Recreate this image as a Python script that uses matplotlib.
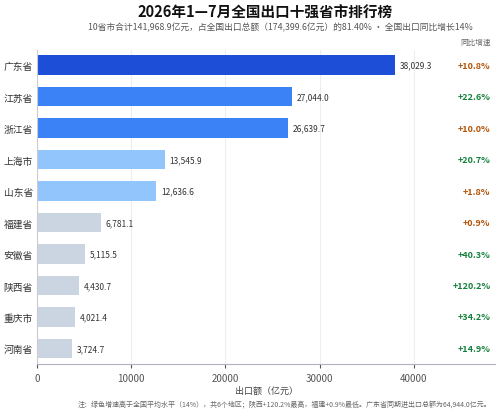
import matplotlib
matplotlib.use("Agg")
import matplotlib.pyplot as plt

plt.rcParams['font.family'] = ['Noto Sans CJK SC', 'DejaVu Sans']

provinces = ["广东省", "江苏省", "浙江省", "上海市", "山东省", "福建省", "安徽省", "陕西省", "重庆市", "河南省"]
values = [38029.3, 27044.0, 26639.7, 13545.9, 12636.6, 6781.1, 5115.5, 4430.7, 4021.4, 3724.7]
growth = [10.8, 22.6, 10.0, 20.7, 1.8, 0.9, 40.3, 120.2, 34.2, 14.9]
bar_colors = ["#1d4ed8", "#3b82f6", "#3b82f6", "#93c5fd", "#93c5fd",
              "#cbd5e1", "#cbd5e1", "#cbd5e1", "#cbd5e1", "#cbd5e1"]

fig = plt.figure(figsize=(5.0, 4.14), dpi=100)
ax = fig.add_axes([0.074, 0.118, 0.916, 0.76])
y = list(range(len(provinces)))
ax.barh(y, values, color=bar_colors, height=0.62, zorder=2)
ax.set_ylim(len(provinces) - 0.5, -0.5)
ax.set_xlim(0, 48600)
ax.set_yticks(y)
ax.set_yticklabels(provinces, fontsize=7, color="#333333")
ax.set_xticks([0, 10000, 20000, 30000, 40000])
ax.tick_params(axis='x', labelsize=7, colors="#555555", length=3)
ax.tick_params(axis='y', length=0, pad=3)
ax.grid(axis='x', color="#eeeeee", linewidth=0.8, zorder=0)
for s in ["top", "right"]:
    ax.spines[s].set_visible(False)
ax.spines["left"].set_color("#cccccc")
ax.spines["bottom"].set_color("#b0b4c0")
for i, (v, g) in enumerate(zip(values, growth)):
    ax.text(v + 500, i, f"{v:,.1f}", va="center", ha="left", fontsize=6, color="#333333")
    c = "#15803d" if g > 14 else "#b45309"
    ax.text(0.99, i, f"+{g}%", transform=ax.get_yaxis_transform(), va="center", ha="right",
            fontsize=6.5, color=c, fontweight="bold")
ax.text(0.99, 1.01, "同比增速", transform=ax.transAxes, ha="right", va="bottom", fontsize=5.5, color="#666666")
ax.set_xlabel("出口额（亿元）", fontsize=6.5, color="#444444", labelpad=2)

fig.text(0.53, 0.968, "2026年1—7月全国出口十强省市排行榜", ha="center", va="center", fontsize=10.5, fontweight="bold", color="#111111")
fig.text(0.56, 0.932, "10省市合计141,968.9亿元，占全国出口总额（174,399.6亿元）的81.40% · 全国出口同比增长14%",
         ha="center", va="center", fontsize=6.3, color="#555555")
fig.text(0.57, 0.022, "注：绿色增速高于全国平均水平（14%），共6个地区；陕西+120.2%最高，福建+0.9%最低。广东省同期进出口总额为64,944.0亿元。",
         ha="center", va="center", fontsize=5, color="#666666")
fig.savefig("out.png", dpi=100, facecolor="white")
